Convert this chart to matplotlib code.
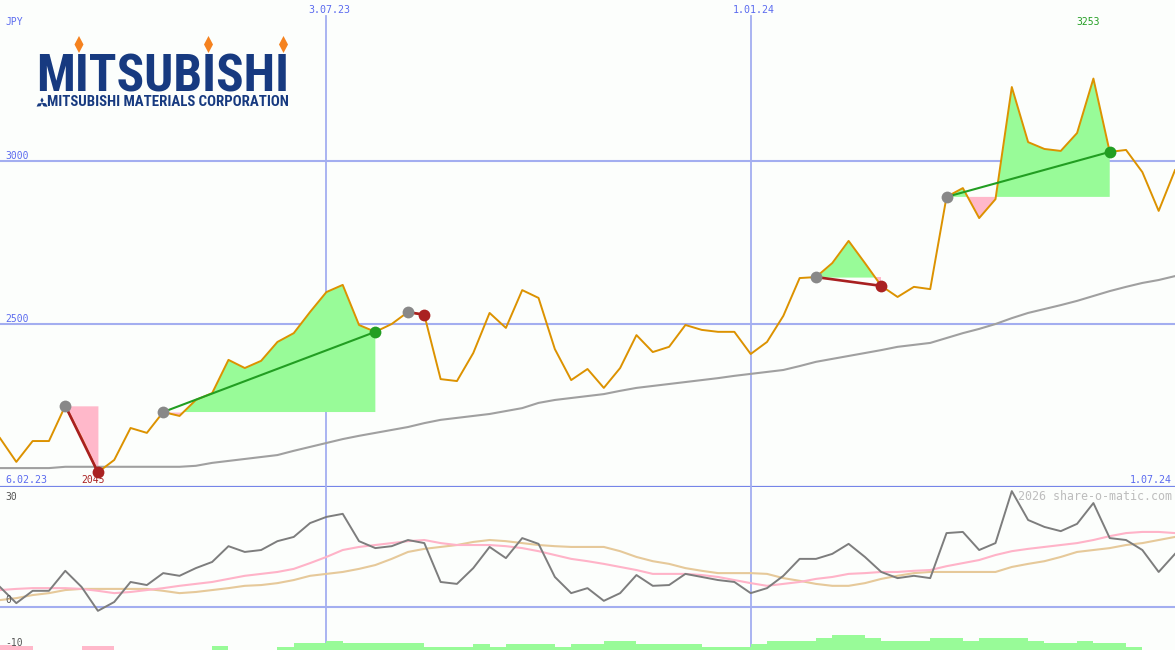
import numpy as np
import pandas as pd
import matplotlib
matplotlib.use('Agg')
import matplotlib.pyplot as plt
import matplotlib.dates as mdates
import matplotlib.transforms as mtransforms
from matplotlib import font_manager
from matplotlib.patches import Polygon

W, H = 1175, 650

# weekly closes, 13 Feb 2023 .. 1 Jul 2024 (JPY)
dates = pd.date_range('2023-02-13', periods=73, freq='7D')

price = [2150, 2077, 2141, 2141, 2249, 2150, 2045, 2083, 2181, 2166,
         2230, 2218, 2267, 2288, 2390, 2365, 2387, 2445, 2472, 2537,
         2598, 2620, 2497, 2476, 2500, 2537, 2528, 2331, 2325, 2411,
         2534, 2488, 2604, 2580, 2423, 2328, 2362, 2304, 2365, 2466,
         2414, 2430, 2497, 2482, 2476, 2476, 2408, 2445, 2525, 2641,
         2644, 2687, 2755, 2687, 2617, 2583, 2614, 2607, 2890, 2917,
         2825, 2883, 3227, 3058, 3037, 3031, 3086, 3253, 3028, 3034,
         2966, 2847, 2972]

ma_long = [2058, 2058, 2058, 2058, 2062, 2062, 2062, 2062, 2062, 2062,
           2062, 2062, 2065, 2074, 2080, 2086, 2092, 2098, 2111, 2123,
           2135, 2147, 2157, 2166, 2175, 2184, 2196, 2206, 2212, 2218,
           2224, 2233, 2242, 2258, 2267, 2273, 2279, 2285, 2295, 2304,
           2310, 2316, 2322, 2328, 2334, 2341, 2347, 2353, 2359, 2371,
           2384, 2393, 2402, 2411, 2420, 2430, 2436, 2442, 2457, 2472,
           2485, 2500, 2518, 2534, 2546, 2558, 2571, 2586, 2601, 2614,
           2626, 2635, 2647]

# (start week, end week) of the marked moves
trades = [(4, 6), (10, 23), (25, 26), (50, 54), (58, 68)]

# lower panel
osc = [5.2, 1.0, 4.2, 4.2, 9.4, 5.2, -1.0, 1.3, 6.5, 5.7,
       8.8, 8.1, 10.1, 11.7, 15.8, 14.3, 14.8, 17.1, 18.2, 21.8,
       23.4, 24.2, 17.1, 15.3, 15.8, 17.4, 16.6, 6.5, 6.0, 10.1,
       15.6, 12.7, 17.9, 16.4, 7.8, 3.6, 4.9, 1.6, 3.6, 8.3,
       5.5, 5.7, 8.6, 7.8, 7.0, 6.5, 3.6, 4.9, 8.1, 12.5,
       12.5, 13.8, 16.4, 13.0, 9.1, 7.5, 8.1, 7.5, 19.2, 19.5,
       14.8, 16.6, 30.1, 22.6, 20.8, 19.7, 21.6, 27.0, 17.9, 17.4,
       14.8, 9.1, 13.8]

osc_fast = [4.4, 4.7, 4.9, 4.9, 4.9, 4.7, 4.2, 3.6, 3.9, 4.4,
            4.9, 5.5, 6.0, 6.5, 7.3, 8.1, 8.6, 9.1, 9.9, 11.4,
            13.0, 14.8, 15.6, 16.1, 16.6, 17.1, 17.4, 16.6, 16.1, 16.1,
            16.1, 15.8, 15.3, 14.5, 13.5, 12.5, 11.9, 11.2, 10.4, 9.6,
            8.6, 8.6, 8.6, 8.3, 7.8, 7.0, 6.2, 5.5, 6.0, 6.5,
            7.3, 7.8, 8.6, 8.8, 9.1, 9.1, 9.4, 9.6, 10.6, 11.4,
            12.2, 13.5, 14.5, 15.1, 15.6, 16.1, 16.6, 17.4, 18.4, 19.2,
            19.5, 19.5, 19.2]

osc_slow = [1.8, 2.3, 3.1, 3.6, 4.4, 4.7, 4.7, 4.7, 4.7, 4.7,
            4.2, 3.6, 3.9, 4.4, 4.9, 5.5, 5.7, 6.2, 7.0, 8.1,
            8.6, 9.1, 9.9, 10.9, 12.5, 14.3, 15.1, 15.6, 16.1, 16.9,
            17.4, 17.1, 16.6, 16.1, 15.8, 15.6, 15.6, 15.6, 14.5, 13.0,
            11.9, 11.2, 10.1, 9.4, 8.8, 8.8, 8.8, 8.6, 7.5, 6.8,
            6.0, 5.5, 5.5, 6.2, 7.3, 8.1, 8.8, 9.1, 9.1, 9.1,
            9.1, 9.1, 10.4, 11.2, 11.9, 13.0, 14.3, 14.8, 15.3, 16.1,
            16.6, 17.4, 18.2]

hist = [-1.3, -1.0, 0, 0, 0, -1.0, -1.0, 0, 0, 0,
        0, 0, 0, 1.0, 0, 0, 0, 0.8, 1.8, 1.8,
        2.3, 1.7, 1.7, 1.7, 1.7, 1.7, 0.8, 0.8, 0.8, 1.6,
        0.8, 1.6, 1.6, 1.6, 0.8, 1.6, 1.6, 2.3, 2.3, 1.6,
        1.6, 1.6, 1.6, 0.8, 0.8, 0.8, 1.6, 2.3, 2.3, 2.3,
        3.1, 3.9, 3.9, 3.1, 2.3, 2.3, 2.3, 3.1, 3.1, 2.3,
        3.1, 3.1, 3.1, 2.3, 1.8, 1.8, 2.3, 1.8, 1.8, 0.8,
        0, 0, 0]

price_levels = [3000, 2500]
date_marks = ['2023-07-03', '2024-01-01']
date_labels = ['3.07.23', '1.01.24']

BG = '#fcfefc'
GRID = '#a3aef0'
SEP = '#7585e8'
TXT = '#5b6bef'
ORANGE = '#dc9200'
GREEN_FILL = '#98fb98'
PINK_FILL = '#ffb8ca'
GREEN = '#229e22'
DRED = '#a82020'
MONO = 'DejaVu Sans Mono'

x = mdates.date2num(dates)
p = np.array(price, dtype=float)

fig = plt.figure(figsize=(W / 100, H / 100), dpi=100, facecolor=BG)
ax1 = fig.add_axes([0, 163 / H, 1, 487 / H])
ax2 = fig.add_axes([0, 0, 1, 163 / H])
for ax in (ax1, ax2):
    ax.set_facecolor(BG)
    ax.set_xlim(x[0], x[-1])
    for sp in ax.spines.values():
        sp.set_visible(False)
    ax.set_xticks([])
    ax.set_yticks([])
ax1.set_ylim(2000, 3494)
ax2.set_ylim(-11.17, 31.17)

# grid
for lv in price_levels:
    ax1.axhline(lv, color=GRID, lw=1.5, zorder=1)
ax1.axhline(2000, color=SEP, lw=1.6, zorder=1, clip_on=False)
ax2.axhline(0, color=GRID, lw=1.5, zorder=1)
for d in date_marks:
    xd = mdates.date2num(pd.Timestamp(d))
    ax1.axvline(xd, ymax=1 - 16 / 487, color=GRID, lw=1.3, zorder=1)
    ax2.axvline(xd, color=GRID, lw=1.3, zorder=1)

# marked moves
for s, e in trades:
    xs = x[s:e + 1]
    ys = p[s:e + 1]
    base = p[s]
    ax1.fill_between(xs, base, ys, where=ys >= base, interpolate=True,
                     color=GREEN_FILL, lw=0, zorder=2)
    ax1.fill_between(xs, base, ys, where=ys <= base, interpolate=True,
                     color=PINK_FILL, lw=0, zorder=2)

ax1.plot(x, ma_long, color='#a0a0a0', lw=1.5, zorder=3)
ax1.plot(x, p, color=ORANGE, lw=1.4, zorder=4)

for s, e in trades:
    up = p[e] >= p[s]
    c = GREEN if up else DRED
    ax1.plot([x[s], x[e]], [p[s], p[e]], color=c, lw=1.5 if up else 1.9, zorder=5)
    ax1.plot(x[s], p[s], 'o', color='#888888', ms=8.5, mec='none', zorder=6)
    ax1.plot(x[e], p[e], 'o', color=GREEN if up else '#aa2222', ms=8.5, mec='none', zorder=6)

# lower panel
lo = ax2.get_ylim()[0]
hcol = [GREEN_FILL if v >= 0 else PINK_FILL for v in hist]
ax2.bar(x, np.abs(hist), width=7, align='edge', bottom=lo, color=hcol, lw=0, zorder=2)
ax2.plot(x, osc_slow, color='#e6c99a', lw=1.5, zorder=3)
ax2.plot(x, osc_fast, color='#ffb3c8', lw=1.5, zorder=3)
ax2.plot(x, osc, color='#7d7d7d', lw=1.4, zorder=4)

# labels
def yoff(ax, dy):
    tr = mtransforms.blended_transform_factory(ax.transAxes, ax.transData)
    return mtransforms.offset_copy(tr, fig=fig, y=-dy, units='dots')

fs = 7
ax1.text(5 / W, 3494, 'JPY', transform=yoff(ax1, 25), fontsize=fs, family=MONO,
         color=TXT, va='baseline', ha='left')
for lv in price_levels:
    ax1.text(5 / W, lv, str(lv), transform=yoff(ax1, -2), fontsize=fs, family=MONO,
             color=TXT, va='baseline', ha='left', zorder=7)

for d, lab in zip(date_marks, date_labels):
    xd = mdates.date2num(pd.Timestamp(d))
    tr = mtransforms.offset_copy(ax1.transData, fig=fig, x=3, y=-13, units='dots')
    tr = mtransforms.blended_transform_factory(tr, mtransforms.offset_copy(ax1.transAxes, fig=fig, y=-13, units='dots'))
    ax1.text(xd, 1, lab, transform=tr, fontsize=7.2, family=MONO, color=TXT,
             va='baseline', ha='center')

ax1.text(5 / W, 2000, '6.02.23', transform=yoff(ax1, -4), fontsize=7.2, family=MONO,
         color=TXT, va='baseline', ha='left')
ax1.text(1 - 3 / W, 2000, '1.07.24', transform=yoff(ax1, -4), fontsize=7.2, family=MONO,
         color=TXT, va='baseline', ha='right')

i_lo = int(np.argmin(p))
i_hi = int(np.argmax(p))
ax1.text(x[i_lo], 2000, str(int(p[i_lo])),
         transform=mtransforms.offset_copy(ax1.transData, fig=fig, x=-4.5, y=4, units='dots'),
         fontsize=fs, family=MONO, color='#aa2222', va='baseline', ha='center', zorder=5)
ax1.text(x[i_hi], 3494,
         str(int(p[i_hi])),
         transform=mtransforms.offset_copy(ax1.transData, fig=fig, x=-5, y=-25, units='dots'),
         fontsize=fs, family=MONO, color=GREEN, va='baseline', ha='center')

for v, dy in [(30, 8), (0, -4), (-10, 0.5)]:
    ax2.text(5 / W, v, str(v), transform=yoff(ax2, dy), fontsize=fs, family=MONO,
             color='#555555', va='baseline', ha='left', zorder=7)
ax2.text(1 - 3 / W, 31.17, '2026 share-o-matic.com', transform=yoff(ax2, 13),
         fontsize=8.4, family=MONO, color='#bdbdbd', va='baseline', ha='right')

# logo
ov = fig.add_axes([0, 0, 1, 1], zorder=10)
ov.set_xlim(0, W)
ov.set_ylim(H, 0)
ov.axis('off')
ov.patch.set_alpha(0)

names = {f.name for f in font_manager.fontManager.ttflist}
logo_font = next((n for n in ['Liberation Sans Narrow', 'Roboto Condensed',
                              'Open Sans Condensed'] if n in names), 'Liberation Sans')
NAVY = '#173a80'


def fit_text(x0, x1, base, s, **kw):
    t = ov.text(x0, base, s, fontsize=20, ha='left', va='baseline', **kw)
    fig.canvas.draw()
    bb = t.get_window_extent()
    t.set_fontsize(20 * (x1 - x0) / bb.width)
    return t


fit_text(36, 289, 92, 'MITSUBISHI', family=logo_font, weight='bold', color=NAVY)
fit_text(47, 289, 106.5, 'MITSUBISHI MATERIALS CORPORATION', family=logo_font,
         weight='bold', color=NAVY)

for cx in (79, 208.5, 283.5):
    ov.add_patch(Polygon([(cx, 36), (cx + 4.5, 44.5), (cx, 53), (cx - 4.5, 44.5)],
                         closed=True, color='#f5821f', lw=0))
# small three-diamond mark
ov.add_patch(Polygon([(42, 97.5), (43.6, 100.3), (42, 103), (40.4, 100.3)], color=NAVY, lw=0))
ov.add_patch(Polygon([(42, 103), (39.2, 104.6), (36.8, 106.5), (39.5, 104.9)], color=NAVY, lw=0))
ov.add_patch(Polygon([(42, 103), (45, 103.2), (47.4, 106.5), (44.2, 106.2)], color=NAVY, lw=0))
ov.add_patch(Polygon([(42, 103), (38, 103.5), (36.6, 106.6), (40.6, 106.2)], color=NAVY, lw=0))
ov.add_patch(Polygon([(42, 103), (46, 103.5), (47.4, 106.6), (43.4, 106.2)], color=NAVY, lw=0))

fig.savefig('out.png', dpi=100, facecolor=BG)
